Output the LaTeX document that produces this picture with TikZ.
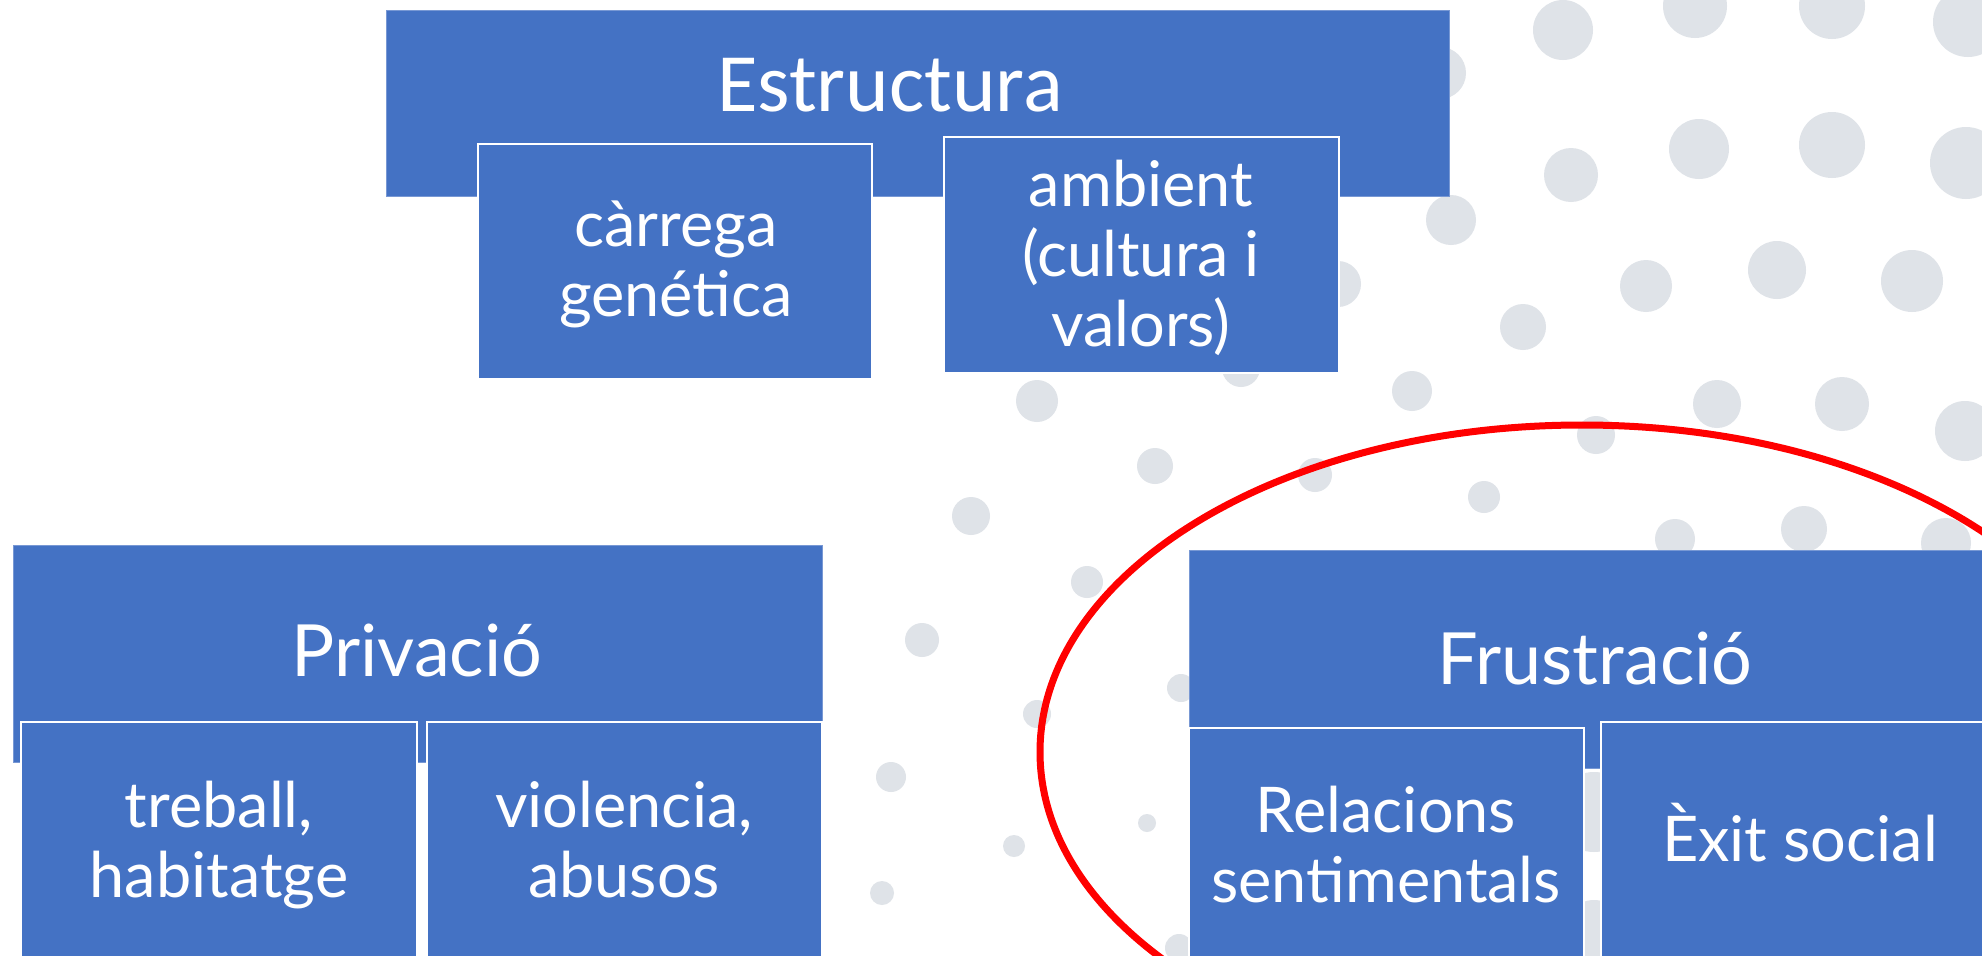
\documentclass[tikz,border=0pt]{standalone}
\usepackage{fontspec}
\setmainfont{Lato}
\newfontfamily\calibfont{Carlito}
\definecolor{boxblue}{RGB}{68,114,196}
\definecolor{boxedge}{RGB}{120,152,212}
\definecolor{dotgray}{RGB}{223,227,232}
\definecolor{ringred}{RGB}{255,0,0}
\tikzset{
  parentbox/.style={rectangle, fill=boxblue, draw=boxedge, line width=1pt, inner sep=0pt, outer sep=0pt, anchor=north west},
  childbox/.style={rectangle, fill=boxblue, draw=white, line width=2.5pt, inner sep=0pt, outer sep=0pt, anchor=north west},
  bigtxt/.style={text=white, inner sep=0pt, anchor=base, font=\fontsize{72}{80}\selectfont},
  smalltxt/.style={text=white, inner sep=0pt, anchor=base, font=\fontsize{63}{70}\selectfont},
  dotfill/.style={fill=dotgray, draw=none},
  ring/.style={draw=ringred, line width=7pt}
}
\begin{document}
\begin{tikzpicture}[x=1pt,y=-1pt]
\useasboundingbox (0,0) rectangle (1982,956);
\clip (0,0) rectangle (1982,956);
\fill[white] (0,0) rectangle (1982,956);
% background dots
\foreach \cx/\cy/\r in {
  1563/30/30, 1695/6/32, 1832/6/33, 1968/22/35,
  1440/73/26, 1571/175/27, 1699/149/30, 1832/145/33, 1966/163/36,
  1451/220/25, 1646/286/26, 1777/270/29, 1912/281/31,
  1338/284/23, 1523/327/23, 1241/368/19,
  1037/401/21, 1412/391/20, 1717/404/24, 1842/404/27, 1965/431/30,
  1155/466/18, 1315/475/17, 1484/497/16, 1596/435/19,
  971/516/19, 1804/529/23, 1675/539/20, 1946/543/25,
  1087/582/16, 922/640/17, 1181/688/14, 1037/714/14,
  891/777/15, 1147/823/9, 1014/846/11, 882/893/12, 1179/948/14,
  1594/812/40, 1594/930/30}
  \fill[dotfill] (\cx,\cy) circle[radius=\r pt];
% Estructura group
\node[parentbox, minimum width=1063pt, minimum height=186pt] (estr) at (386,10) {};
\node[childbox, minimum width=394pt, minimum height=235pt] (carr) at (478,144) {};
\node[childbox, minimum width=395pt, minimum height=236pt] (amb) at (944,137) {};
\node[text=white, inner sep=0pt, anchor=base, font=\calibfont\fontsize{83}{90}\selectfont] (estrT) at (890,111) {Estructura};
\node[smalltxt] (carrT) at (676,246) {\begin{tabular}[t]{@{}c@{}}càrrega\\genética\end{tabular}};
\node[smalltxt] (ambT) at (1141,206) {\begin{tabular}[t]{@{}c@{}}ambient\\(cultura i\\valors)\end{tabular}};
% Privacio group
\node[parentbox, minimum width=809pt, minimum height=217pt] (priv) at (13,545) {};
\node[childbox, minimum width=396pt, minimum height=260pt] (treb) at (21,722) {};
\node[childbox, minimum width=395pt, minimum height=260pt] (viol) at (427,722) {};
\node[bigtxt] (privT) at (417,676) {Privació};
\node[smalltxt] (trebT) at (219,827) {\begin{tabular}[t]{@{}c@{}}treball,\\habitatge\end{tabular}};
\node[smalltxt] (violT) at (624,827) {\begin{tabular}[t]{@{}c@{}}violencia,\\abusos\end{tabular}};
% Frustracio group
\node[parentbox, minimum width=812pt, minimum height=218pt] (frus) at (1189,550) {};
\node[childbox, minimum width=395pt, minimum height=250pt] (rel) at (1189,728) {};
\node[childbox, minimum width=400pt, minimum height=256pt] (exit) at (1601,722) {};
\node[bigtxt] (frusT) at (1595,684) {Frustració};
\node[smalltxt] (relT) at (1386,832) {\begin{tabular}[t]{@{}c@{}}Relacions\\sentimentals\end{tabular}};
\node[smalltxt] (exitT) at (1800,861) {Èxit social};
% red ring
\draw[ring] (1582,752) ellipse[x radius=542pt, y radius=327pt];
\end{tikzpicture}
\end{document}
